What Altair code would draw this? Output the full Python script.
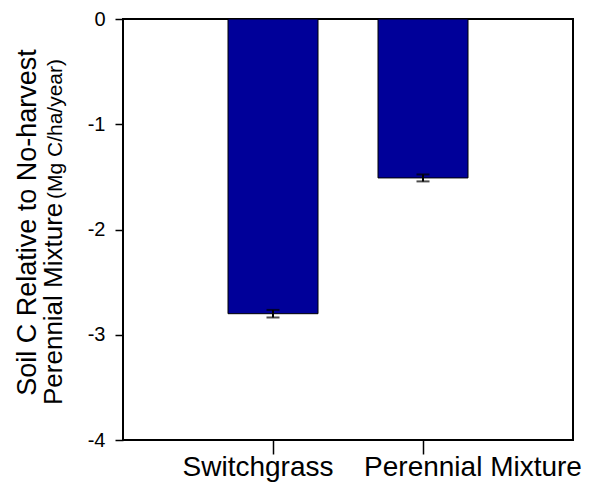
import altair as alt
import pandas as pd

categories = ["Switchgrass", "Perennial Mixture"]
values = [-2.80, -1.51]
errors = [0.036, 0.033]
y_ticks = [0, -1, -2, -3, -4]
title_line1 = "Soil C Relative to No-harvest"
title_line2 = "Perennial Mixture"
title_unit = "(Mg C/ha/year)"

FONT = "Liberation Sans"

df = pd.DataFrame({"cat": categories, "val": values, "err": errors})

x_enc = alt.X(
    "cat:N",
    sort=categories,
    scale=alt.Scale(paddingInner=0.4, paddingOuter=0.7),
    axis=alt.Axis(
        title=None,
        labelAngle=0,
        labelFontSize=28,
        labelFont=FONT,
        labelColor="black",
        labelOverlap=False,
        labelLimit=0,
        labelPadding=-1,
        labelOffset={"condition": {"test": "datum.value == 'Switchgrass'", "value": -15}, "value": 50},
        tickSize=14,
        tickColor="black",
        tickWidth=1.5,
        domain=False,
    ),
)

y_enc = alt.Y(
    "val:Q",
    scale=alt.Scale(domain=[-4, 0], nice=False),
    axis=alt.Axis(
        values=y_ticks,
        title=title_line1,
        titleFont=FONT,
        titleFontSize=27,
        titleFontWeight="normal",
        titleColor="black",
        titleAngle=270,
        titleAlign="center",
        titleBaseline="alphabetic",
        titleX=-88,
        titleY=203,
        labelFont=FONT,
        labelFontSize=20,
        labelColor="black",
        labelPadding=10,
        labelExpr="datum.value < 0 ? '-' + format(-datum.value, 'd') : format(datum.value, 'd')",
        tickSize=8,
        tickColor="black",
        tickWidth=1.5,
        domain=False,
        grid=False,
    ),
)

base = alt.Chart(df)

bars = base.mark_bar(color="#000099", stroke="black", strokeWidth=1).encode(x=x_enc, y=y_enc)

err_base = base.transform_calculate(lo="datum.val - datum.err", hi="datum.val + datum.err")
rule = err_base.mark_rule(color="black", strokeWidth=2).encode(
    x=alt.X("cat:N", sort=categories), y="lo:Q", y2="hi:Q"
)
cap_lo = err_base.mark_tick(color="black", size=13, thickness=2).encode(
    x=alt.X("cat:N", sort=categories), y="lo:Q"
)
cap_hi = err_base.mark_tick(color="black", size=13, thickness=2).encode(
    x=alt.X("cat:N", sort=categories), y="hi:Q"
)

t2 = alt.Chart(pd.DataFrame({"t": [title_line2]})).mark_text(
    angle=270, align="left", baseline="alphabetic", fontSize=26, font=FONT, color="black"
).encode(text="t:N", x=alt.value(-61), y=alt.value(386))

t3 = alt.Chart(pd.DataFrame({"t": [title_unit]})).mark_text(
    angle=270, align="left", baseline="alphabetic", fontSize=21, font=FONT, color="black"
).encode(text="t:N", x=alt.value(-61), y=alt.value(180))

chart = alt.layer(bars, rule, cap_lo, cap_hi, t2, t3).properties(
    width=450,
    height=421,
    autosize=alt.AutoSizeParams(type="none"),
    padding={"left": 115, "top": 11, "right": 11, "bottom": 43},
).configure(
    background="white",
    view=alt.ViewConfig(stroke="black", strokeWidth=2),
)

chart.save("out.html", embed_options={"renderer": "svg", "actions": False})
